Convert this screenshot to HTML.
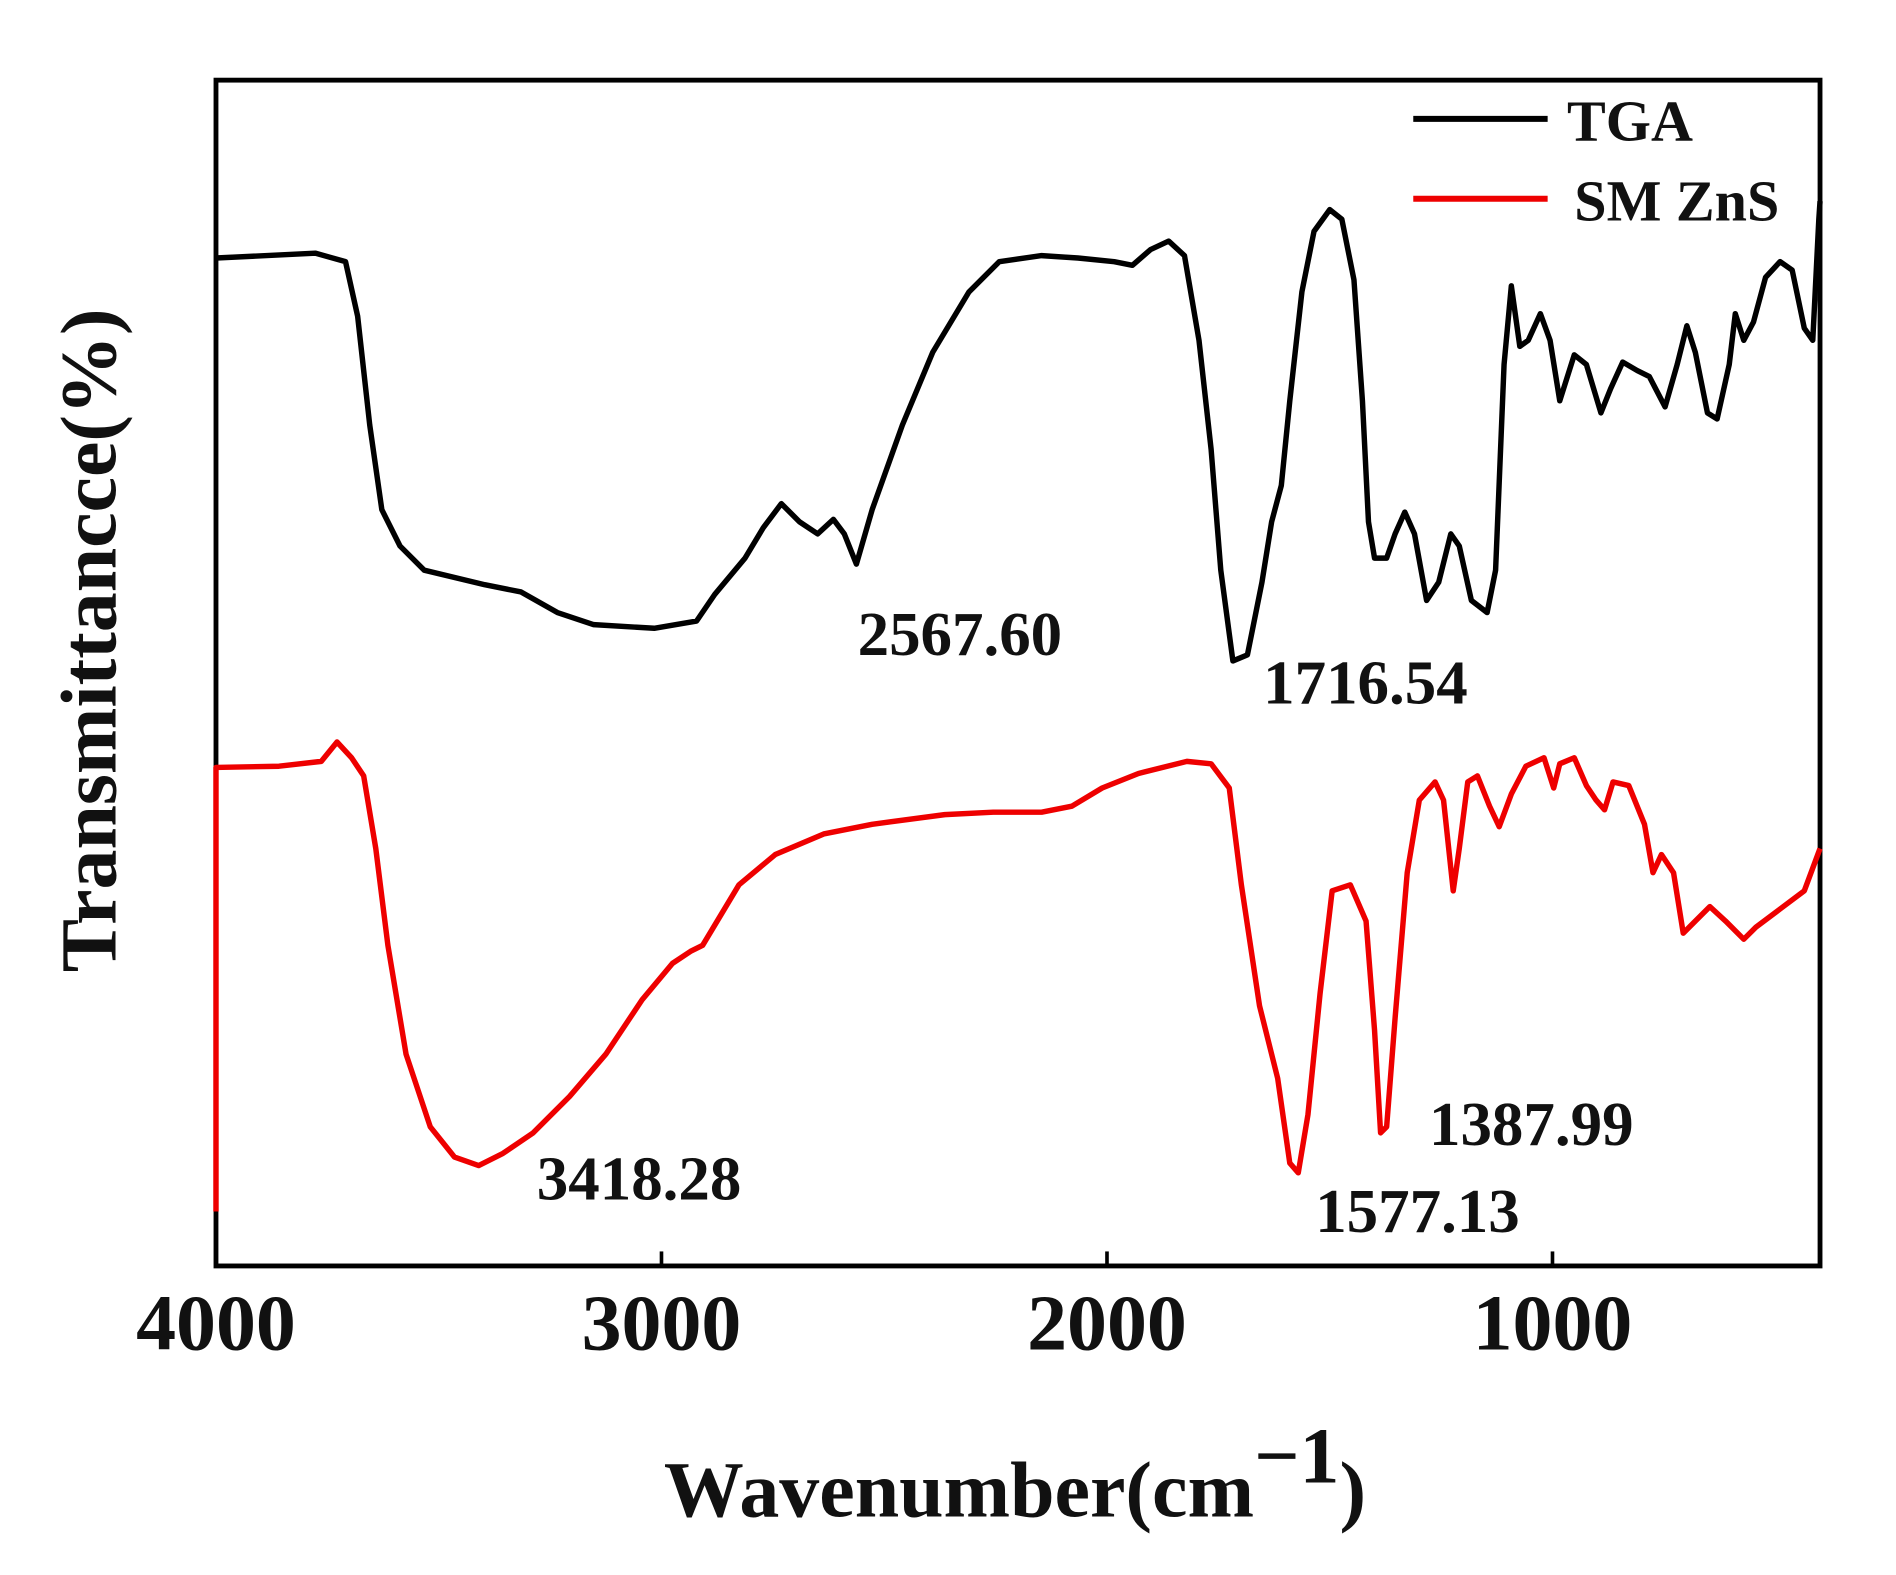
<!DOCTYPE html>
<html><head><meta charset="utf-8"><style>html,body{margin:0;padding:0;background:#fff}svg{display:block}</style></head>
<body>
<svg width="1896" height="1575" viewBox="0 0 1896 1575" xmlns="http://www.w3.org/2000/svg">
<g transform="matrix(1.2106,0,0,1.21,0.5,1.5)" font-family="Liberation Serif, serif" font-weight="bold" fill="#111">
<!-- axes -->
<rect x="178" y="65" width="1325" height="980" fill="none" stroke="#000" stroke-width="4"/>
<line x1="546" y1="1045" x2="546" y2="1033" stroke="#000" stroke-width="3"/>
<line x1="914" y1="1045" x2="914" y2="1033" stroke="#000" stroke-width="3"/>
<line x1="1282" y1="1045" x2="1282" y2="1033" stroke="#000" stroke-width="3"/>
<!-- black curve -->
<polyline fill="none" stroke="#000" stroke-width="4.5" stroke-linejoin="round" points="178,212 260,208 285,215 295,260 305,350 315,420 330,450 350,470 400,482 430,488 460,505 490,515 540,518 575,512 590,490 615,460 630,435 645,415 660,430 675,440 688,428 697,440 707,465 720,420 745,350 770,290 800,240 825,215 860,210 890,212 920,215 935,218 950,205 965,198 978,210 990,280 1000,370 1008,470 1018,545 1030,540 1042,480 1050,430 1058,400 1065,330 1075,240 1085,190 1098,172 1108,180 1118,230 1125,330 1130,430 1135,460 1145,460 1152,440 1160,422 1168,440 1178,495 1188,480 1198,440 1205,450 1215,495 1228,505 1235,470 1242,300 1248,235 1255,285 1262,280 1272,258 1280,280 1288,330 1300,292 1310,300 1322,340 1330,320 1340,298 1352,305 1362,310 1375,335 1385,300 1393,268 1400,290 1410,340 1418,345 1428,300 1433,258 1440,280 1448,265 1458,228 1470,215 1480,222 1490,270 1497,280 1502,180 1503,165"/>
<!-- red curve -->
<polyline fill="none" stroke="#e00" stroke-width="4.5" stroke-linejoin="round" points="178,1000 178,633 230,632 265,628 278,612 290,625 300,640 310,700 320,780 335,870 355,930 375,955 395,962 415,952 440,935 470,905 500,870 530,825 555,795 570,785 580,780 595,755 610,730 640,705 680,688 720,680 780,672 820,670 860,670 885,665 910,650 940,638 980,628 1000,630 1015,650 1025,730 1040,830 1055,890 1065,960 1072,968 1080,920 1090,820 1100,735 1115,730 1128,760 1135,850 1140,935 1145,930 1152,840 1162,720 1172,660 1185,645 1192,660 1200,735 1205,700 1212,645 1220,640 1230,665 1238,682 1248,655 1260,632 1275,625 1283,650 1288,630 1300,625 1310,648 1318,660 1325,668 1332,645 1345,648 1358,680 1365,720 1372,705 1382,720 1390,770 1400,760 1412,748 1425,760 1440,775 1450,765 1470,750 1490,735 1503,700"/>
<!-- legend -->
<line x1="1167" y1="97" x2="1278" y2="97" stroke="#000" stroke-width="5"/>
<line x1="1167" y1="163" x2="1278" y2="163" stroke="#e00" stroke-width="5"/>
<text x="1294" y="115" font-size="48">TGA</text>
<text x="1300" y="181" font-size="48">SM ZnS</text>
<!-- annotations -->
<g font-size="52">
<text x="708" y="540">2567.60</text>
<text x="1043" y="580">1716.54</text>
<text x="443" y="990">3418.28</text>
<text x="1086" y="1017">1577.13</text>
<text x="1180" y="945">1387.99</text>
</g>
<!-- ticks -->
<g font-size="66" text-anchor="middle">
<text x="178" y="1114">4000</text>
<text x="546" y="1114">3000</text>
<text x="914" y="1114">2000</text>
<text x="1282" y="1114">1000</text>
</g>
<!-- axis labels -->
<text x="548" y="1252" font-size="66">Wavenumber(cm<tspan dy="-28">−1</tspan><tspan dy="28">)</tspan></text>
<text transform="translate(95,528) rotate(-90)" font-size="66" text-anchor="middle">Transmittancce(%)</text>
</g>
</svg>
</body></html>
